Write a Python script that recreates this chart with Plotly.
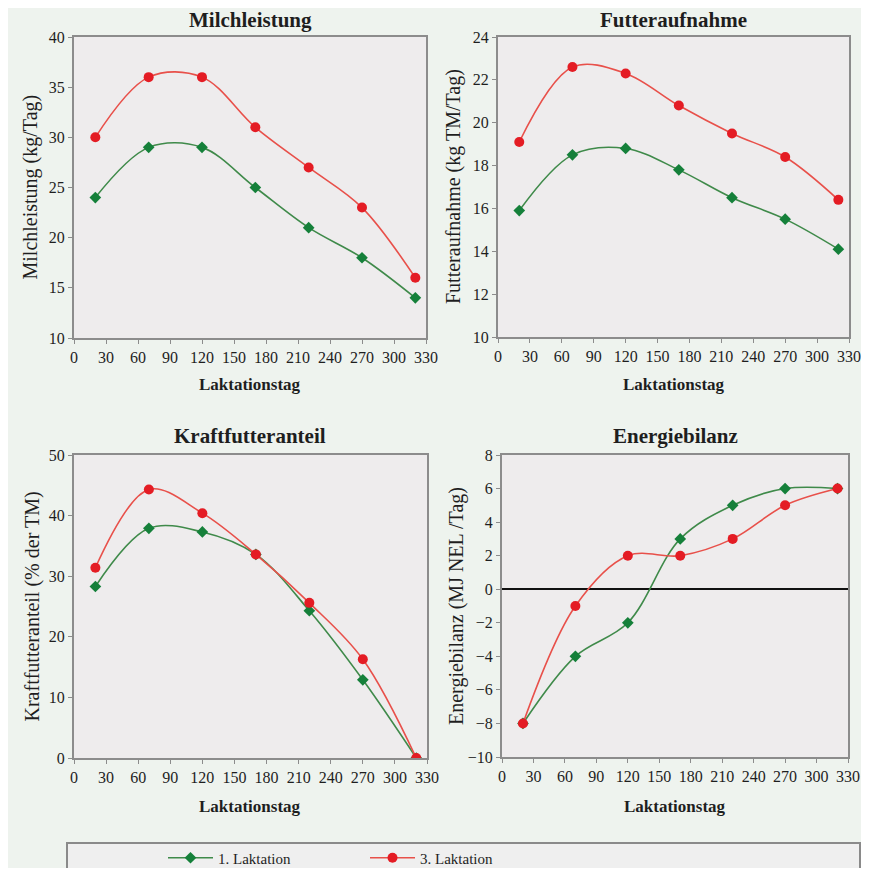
import plotly.graph_objects as go

# ---- data ----
days = [20, 70, 120, 170, 220, 270, 320]
milch_l1 = [24, 29, 29, 25, 21, 18, 14]
milch_l3 = [30, 36, 36, 31, 27, 23, 16]
futter_l1 = [15.9, 18.5, 18.8, 17.8, 16.5, 15.5, 14.1]
futter_l3 = [19.1, 22.6, 22.3, 20.8, 19.5, 18.4, 16.4]
kraft_l1 = [28.3, 37.9, 37.3, 33.6, 24.3, 12.9, 0]
kraft_l3 = [31.4, 44.3, 40.4, 33.6, 25.6, 16.3, 0]
energie_l1 = [-8, -4, -2, 3, 5, 6, 6]
energie_l3 = [-8, -1, 2, 2, 3, 5, 6]

panel_titles = ["Milchleistung", "Futteraufnahme", "Kraftfutteranteil", "Energiebilanz"]
y_titles = ["Milchleistung (kg/Tag)", "Futteraufnahme (kg TM/Tag)",
            "Kraftfutteranteil (% der TM)", "Energiebilanz (MJ NEL /Tag)"]
y_ranges = [[10, 40], [10, 24], [0, 50], [-10, 8]]
y_dticks = [5, 2, 10, 2]
x_tickvals = list(range(0, 331, 30))
series_names = ["1. Laktation", "3. Laktation"]
panels = [(milch_l1, milch_l3), (futter_l1, futter_l3),
          (kraft_l1, kraft_l3), (energie_l1, energie_l3)]

OFF = 8  # page body margin
W, H = 869 - 2 * OFF, 876 - 2 * OFF
FONT = "Liberation Serif, Times New Roman, serif"
GREEN_LINE = "#3f8a4a"
GREEN_MK = "#15803a"
RED_LINE = "#e8504a"
RED_MK = "#e41c24"
PAGE_BG = "#eef3ee"
PLOT_BG = "#eeeced"
TXT = "#1e1e1e"

def px_x(v):
    return (v - OFF) / W

def px_y(v):
    return 1 - (v - OFF) / H

# plot area boxes in window pixels: (left, right, top, bottom)
boxes = [(74, 426, 37, 338), (498, 849, 37, 337),
         (74, 427, 455, 758), (502, 848, 455, 757)]
title_y = [20, 20, 436, 436]
xtitle_y = [385, 385, 806, 806]
ytitle_x = [30, 453, 32, 456]

fig = go.Figure()
layout = dict()
annotations = []
for i, (box, (s1, s3)) in enumerate(zip(boxes, panels)):
    k = "" if i == 0 else str(i + 1)
    l, r, t, b = box
    fig.add_trace(go.Scatter(
        x=days, y=s1, mode="lines+markers", name=series_names[0],
        line=dict(color=GREEN_LINE, width=1.6, shape="spline", smoothing=1.0),
        marker=dict(symbol="diamond", size=9, color=GREEN_MK),
        xaxis="x" + k, yaxis="y" + k, showlegend=(i == 0), legendgroup="l1"))
    fig.add_trace(go.Scatter(
        x=days, y=s3, mode="lines+markers", name=series_names[1],
        line=dict(color=RED_LINE, width=1.6, shape="spline", smoothing=1.0),
        marker=dict(symbol="circle", size=10, color=RED_MK),
        xaxis="x" + k, yaxis="y" + k, showlegend=(i == 0), legendgroup="l3"))
    axcommon = dict(showline=True, linecolor="#8c8c8c", linewidth=2, mirror=True,
                    ticks="outside", ticklen=4, tickcolor="#8c8c8c", showgrid=False,
                    tickfont=dict(family=FONT, size=16, color=TXT))
    layout["xaxis" + k] = dict(axcommon, domain=[px_x(l), px_x(r)], range=[0, 330],
                               tickvals=x_tickvals, anchor="y" + k, zeroline=False)
    layout["yaxis" + k] = dict(axcommon, domain=[px_y(b), px_y(t)], range=y_ranges[i],
                               dtick=y_dticks[i], anchor="x" + k,
                               zeroline=(i == 3), zerolinecolor="#111", zerolinewidth=1.5)
    cx = (l + r) / 2
    annotations.append(dict(text="<b>" + panel_titles[i] + "</b>", x=px_x(cx), y=px_y(title_y[i]),
                            xref="paper", yref="paper", showarrow=False,
                            xanchor="center", yanchor="middle",
                            font=dict(family=FONT, size=21, color=TXT)))
    annotations.append(dict(text="<b>Laktationstag</b>", x=px_x(cx), y=px_y(xtitle_y[i]),
                            xref="paper", yref="paper", showarrow=False,
                            xanchor="center", yanchor="middle",
                            font=dict(family=FONT, size=17, color=TXT)))
    annotations.append(dict(text=y_titles[i], x=px_x(ytitle_x[i]), y=px_y((t + b) / 2),
                            xref="paper", yref="paper", showarrow=False, textangle=-90,
                            xanchor="center", yanchor="middle",
                            font=dict(family=FONT, size=20, color=TXT)))

fig.update_layout(**layout)
fig.update_layout(
    width=W, height=H, margin=dict(l=0, r=0, t=0, b=0, autoexpand=False),
    paper_bgcolor=PAGE_BG, plot_bgcolor=PLOT_BG,
    annotations=annotations,
    shapes=[dict(type="rect", xref="paper", yref="paper", x0=px_x(67), x1=px_x(860),
                 y0=-0.05, y1=px_y(843), fillcolor="#efefef",
                 line=dict(color="#8a8a8a", width=2), layer="below")],
    legend=dict(orientation="h", x=px_x(163), y=px_y(858), xanchor="left", yanchor="middle",
                xref="container", yref="container",
                bgcolor="rgba(0,0,0,0)", entrywidth=142, entrywidthmode="pixels",
                itemwidth=45,
                font=dict(family=FONT, size=15, color=TXT)),
)
fig.write_html("out.html")
